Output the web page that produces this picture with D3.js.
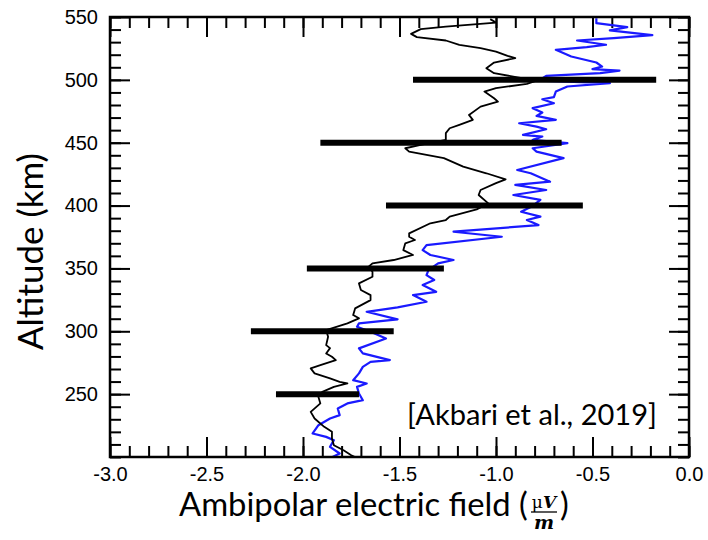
<!DOCTYPE html>
<meta charset="utf-8">
<script src="https://d3js.org/d3.v7.min.js"></script>
<style>
body { margin: 0; background: #fff; }
</style>
<div id="my_dataviz"></div>
<script>

// ---- data ----
// black profile: field (uV/m) vs altitude (km)
var blackE = [-1.03,-1.00,-1.26,-1.39,-1.44,-1.41,-1.26,-1.19,-1.08,-1.00,
  -0.94,-0.90,-1.01,-1.05,-1.01,-0.91,-0.79,-0.84,-1.00,-1.06,
  -1.01,-0.99,-1.08,-1.14,-1.12,-1.19,-1.24,-1.26,-1.26,-1.39,
  -1.47,-1.45,-1.27,-1.17,-1.05,-0.95,-1.00,-1.08,-1.09,-1.04,
  -1.10,-1.24,-1.26,-1.34,-1.45,-1.45,-1.42,-1.47,-1.48,-1.43,
  -1.53,-1.64,-1.66,-1.64,-1.64,-1.71,-1.70,-1.65,-1.65,-1.73,
  -1.74,-1.71,-1.77,-1.88,-1.87,-1.88,-1.86,-1.88,-1.85,-1.83,
  -1.91,-1.96,-1.94,-1.86,-1.81,-1.77,-1.84,-1.90,-1.92,-1.91,
  -1.96,-1.94,-1.89,-1.85,-1.85,-1.84,-1.79,-1.75,-1.73]
var blackAlt = [548.3,545.6,542.4,540.4,536.6,534.0,531.3,527.9,525.2,522.5,
  519.1,517.3,513.8,509.3,505.3,502.6,499.4,496.8,493.4,490.7,
  485.4,482.7,478.7,472.1,468.2,464.2,461.5,457.6,452.2,448.2,
  445.6,442.9,437.7,431.0,425.7,420.9,417.8,412.4,408.4,401.8,
  397.0,391.2,388.5,385.9,377.9,375.2,372.6,370.0,364.6,360.7,
  356.7,354.0,351.3,347.4,343.4,338.1,332.8,328.8,324.8,318.2,
  312.9,310.3,306.3,300.9,295.6,289.0,286.6,282.4,279.7,277.1,
  273.1,270.5,266.5,262.5,259.8,258.5,255.8,251.8,247.8,242.6,
  235.9,230.6,224.0,220.0,214.7,209.4,205.4,201.4,200]

// blue profile
var blueE = [-0.48,-0.48,-0.32,-0.41,-0.19,-0.39,-0.58,-0.43,-0.53,-0.69,
  -0.61,-0.48,-0.45,-0.50,-0.36,-0.46,-0.74,-0.78,-0.41,-0.63,
  -0.69,-0.70,-0.76,-0.70,-0.81,-0.76,-0.79,-0.69,-0.88,-0.79,
  -0.74,-0.86,-0.76,-0.81,-0.63,-0.81,-0.79,-0.65,-0.89,-0.82,
  -0.72,-0.90,-0.74,-0.91,-0.77,-0.81,-0.87,-0.77,-0.84,-0.78,
  -1.22,-0.97,-1.36,-1.38,-1.34,-1.22,-1.30,-1.35,-1.36,-1.32,
  -1.38,-1.31,-1.43,-1.36,-1.51,-1.67,-1.51,-1.71,-1.72,-1.65,
  -1.57,-1.71,-1.69,-1.55,-1.65,-1.69,-1.71,-1.74,-1.67,-1.72,
  -1.71,-1.69,-1.77,-1.82,-1.81,-1.86,-1.92,-1.95,-1.88,-1.84,
  -1.86,-1.81,-1.85]
var blueAlt = [549.1,545.1,542.0,539.3,535.6,533.2,531.3,527.9,526.0,523.9,
  518.6,513.8,510.6,508.5,507.4,505.3,503.2,499.4,497.4,494.7,
  490.7,486.2,484.6,481.4,477.5,474.0,471.3,468.2,465.5,462.8,
  460.7,456.2,454.9,452.2,449.6,445.6,442.9,437.7,428.3,425.7,
  419.0,416.4,412.4,408.4,404.5,399.7,395.1,391.2,388.5,384.5,
  379.2,375.2,368.6,364.6,360.7,356.7,354.0,348.7,344.7,340.8,
  336.8,331.4,328.8,323.5,319.0,315.5,309.5,306.3,303.6,299.6,
  294.3,286.4,282.4,277.1,275.7,271.7,266.5,261.1,258.5,255.8,
  250.5,245.2,242.6,238.6,233.3,230.6,225.3,218.7,216.0,213.4,
  208.1,202.8,199.8]

// thick horizontal bars (range of field at a given altitude)
var barAlt = [500, 450, 400, 350, 300, 250]
var barLo  = [-1.43, -1.91, -1.57, -1.98, -2.27, -2.14]
var barHi  = [-0.17, -0.66, -0.55, -1.27, -1.53, -1.71]

// ticks
var xMajor = [-3.0, -2.5, -2.0, -1.5, -1.0, -0.5, 0.0]
var yMajor = [250, 300, 350, 400, 450, 500, 550]
var xMinorStep = 0.1, yMinorStep = 10

// ---- layout ----
var W = 708, H = 540
var margin = {top: 17, right: 19, bottom: 83, left: 110},
    width = W - margin.left - margin.right,
    height = H - margin.top - margin.bottom;

var svgRoot = d3.select("#my_dataviz")
  .append("svg")
    .attr("width", W)
    .attr("height", H)
var svg = svgRoot.append("g")
    .attr("transform", "translate(" + margin.left + "," + margin.top + ")");

var x = d3.scaleLinear().domain([-3, 0]).range([0, width]);
var y = d3.scaleLinear().domain([200, 550]).range([height, 0]);

var xMinor = d3.range(0, 31).map(function(i){ return -3 + i * xMinorStep })
var yMinor = d3.range(0, 36).map(function(i){ return 200 + i * yMinorStep })

svg.append("clipPath").attr("id", "clip")
  .append("rect").attr("width", width).attr("height", height)

// minor ticks (all four sides, pointing in)
function styleAxis(g) {
  g.select(".domain").remove()
  g.selectAll(".tick line").attr("stroke", "#000").attr("stroke-width", 2)
  g.selectAll("text").attr("fill", "#000")
    .style("font-family", "'Liberation Sans', Arial, sans-serif")
    .style("font-size", "20px")
}
svg.append("g").attr("transform", "translate(0," + height + ")")
  .call(d3.axisBottom(x).tickValues(xMinor).tickSize(-11).tickFormat("")).call(styleAxis)
svg.append("g")
  .call(d3.axisTop(x).tickValues(xMinor).tickSize(-11).tickFormat("")).call(styleAxis)
svg.append("g")
  .call(d3.axisLeft(y).tickValues(yMinor).tickSize(-11).tickFormat("")).call(styleAxis)
svg.append("g").attr("transform", "translate(" + width + ",0)")
  .call(d3.axisRight(y).tickValues(yMinor).tickSize(-11).tickFormat("")).call(styleAxis)

// major ticks + labels
svg.append("g").attr("transform", "translate(0," + height + ")")
  .call(d3.axisBottom(x).tickValues(xMajor).tickSize(-20).tickPadding(10)
    .tickFormat(function(d){ return d.toFixed(1) })).call(styleAxis)
svg.append("g")
  .call(d3.axisTop(x).tickValues(xMajor).tickSize(-20).tickFormat("")).call(styleAxis)
svg.append("g")
  .call(d3.axisLeft(y).tickValues(yMajor).tickSize(-20).tickPadding(12)).call(styleAxis)
svg.append("g").attr("transform", "translate(" + width + ",0)")
  .call(d3.axisRight(y).tickValues(yMajor).tickSize(-20).tickFormat("")).call(styleAxis)

// profiles
var blackData = blackE.map(function(e, i){ return {e: e, alt: blackAlt[i]} })
var blueData = blueE.map(function(e, i){ return {e: e, alt: blueAlt[i]} })
var line = d3.line()
  .x(function(d){ return x(d.e) })
  .y(function(d){ return y(d.alt) })

var plot = svg.append("g").attr("clip-path", "url(#clip)")
plot.append("path")
  .datum(blueData)
  .attr("d", line)
  .attr("fill", "none")
  .attr("stroke", "#1a1aff")
  .attr("stroke-width", 2.2)
  .attr("stroke-linejoin", "round")
plot.append("path")
  .datum(blackData)
  .attr("d", line)
  .attr("fill", "none")
  .attr("stroke", "#000")
  .attr("stroke-width", 1.8)
  .attr("stroke-linejoin", "round")

// bars
svg.selectAll("myBars")
  .data(barAlt)
  .enter()
  .append("line")
    .attr("x1", function(d, i){ return x(barLo[i]) })
    .attr("x2", function(d, i){ return x(barHi[i]) })
    .attr("y1", function(d){ return y(d) })
    .attr("y2", function(d){ return y(d) })
    .attr("stroke", "#000")
    .attr("stroke-width", 6)

// frame
svg.append("rect")
  .attr("width", width).attr("height", height)
  .attr("fill", "none").attr("stroke", "#000").attr("stroke-width", 2.5)

// ---- titles ----
var sans = "Lato, 'Open Sans', sans-serif"
function fit(t, w) {
  var l = t.node().getComputedTextLength()
  var fs = parseFloat(t.style("font-size"))
  t.style("font-size", (fs * w / l) + "px")
}

var yTitle = svgRoot.append("text")
  .attr("transform", "translate(43,251.5) rotate(-90)")
  .attr("text-anchor", "middle")
  .style("font-family", sans).style("font-size", "30px")
  .text("Altitude (km)")
fit(yTitle, 197)

var xTitle = svgRoot.append("text")
  .attr("x", 179).attr("y", 516)
  .style("font-family", sans).style("font-size", "30px")
  .text("Ambipolar electric field (")
fit(xTitle, 349)

// fraction uV / m
svgRoot.append("text")
  .attr("x", 544).attr("y", 508)
  .attr("text-anchor", "middle")
  .style("font-family", "'DejaVu Serif', serif").style("font-size", "17px")
  .html("μ<tspan font-style='italic' font-weight='bold'>V</tspan>")
svgRoot.append("line")
  .attr("x1", 531).attr("x2", 557).attr("y1", 512).attr("y2", 512)
  .attr("stroke", "#000").attr("stroke-width", 1.3)
svgRoot.append("text")
  .attr("x", 544).attr("y", 529)
  .attr("text-anchor", "middle")
  .style("font-family", "'DejaVu Serif', serif").style("font-size", "19px")
  .style("font-style", "italic").style("font-weight", "bold")
  .text("m")
svgRoot.append("text")
  .attr("x", 560).attr("y", 516)
  .style("font-family", sans).style("font-size", xTitle.style("font-size"))
  .text(")")

var cite = svgRoot.append("text")
  .attr("x", 407).attr("y", 425)
  .style("font-family", sans).style("font-size", "26px")
  .text("[Akbari et al., 2019]")
fit(cite, 250)

</script>
